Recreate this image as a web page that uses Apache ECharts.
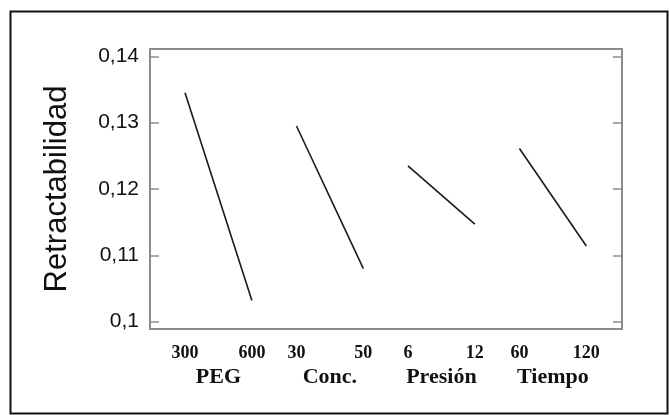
<!DOCTYPE html>
<html>
<head>
<meta charset="utf-8">
<script src="https://cdn.jsdelivr.net/npm/echarts@6/dist/echarts.min.js"></script>
<style>
  html, body { margin: 0; padding: 0; background: #fff; }
  #chart { width: 670px; height: 415px; }
</style>
</head>
<body>
<div id="chart"></div>
<script>
// factors and their two levels
const factors = ['PEG', 'Conc.', 'Presión', 'Tiempo'];
const lowLevels = ['300', '30', '6', '60'];
const highLevels = ['600', '50', '12', '120'];
// mean retractability at the low and high level of each factor
const lowMeans = [0.1345, 0.1295, 0.1235, 0.1261];
const highMeans = [0.1032, 0.1080, 0.1147, 0.1114];
const yTicks = [0.1, 0.11, 0.12, 0.13, 0.14];

// each factor gets a slot on the x axis, the segment spans 0.6 of it
const span = 0.6;
const levelPos = [];
const levelText = {};
const namePos = [];
const nameText = {};
factors.forEach((f, i) => {
    levelPos.push(i, i + span);
    levelText[i] = lowLevels[i];
    levelText[i + span] = highLevels[i];
    namePos.push(i + span / 2);
    nameText[i + span / 2] = f;
});

const series = factors.map((f, i) => ({
    name: f,
    type: 'line',
    data: [[i, lowMeans[i]], [i + span, highMeans[i]]],
    symbol: 'none',
    lineStyle: { color: '#1a1a1a', width: 1.6 },
    silent: true
}));

const chart = echarts.init(document.getElementById('chart'));
const gray = '#8c8c8c';

chart.setOption({
    animation: false,
    grid: {
        left: 150, top: 49, right: 48, bottom: 86,
        show: true, borderColor: gray, borderWidth: 2
    },
    xAxis: [
        {
            type: 'value', min: -0.314, max: 3.92,
            axisLine: { show: false, onZero: false }, axisTick: { show: false }, splitLine: { show: false },
            axisLabel: {
                customValues: levelPos,
                formatter: v => levelText[Math.round(v * 10) / 10] || '',
                margin: 15,
                fontFamily: 'Liberation Serif', fontWeight: 'bold', fontSize: 18, color: '#111'
            }
        },
        {
            type: 'value', min: -0.314, max: 3.92, position: 'bottom',
            axisLine: { show: false, onZero: false }, axisTick: { show: false }, splitLine: { show: false },
            axisLabel: {
                customValues: namePos,
                formatter: v => nameText[Math.round(v * 10) / 10] || '',
                margin: 37,
                fontFamily: 'Liberation Serif', fontWeight: 'bold', fontSize: 22, color: '#111'
            }
        }
    ],
    yAxis: [
        {
            type: 'value', min: 0.0989, max: 0.1411, position: 'left',
            name: 'Retractabilidad', nameLocation: 'middle', nameGap: 77,
            nameTextStyle: { fontFamily: 'Liberation Sans', fontSize: 31, color: '#111' },
            axisLine: { show: false, onZero: false }, splitLine: { show: false },
            axisTick: { inside: true, length: 9, customValues: yTicks, lineStyle: { color: gray, width: 1.5 } },
            axisLabel: {
                customValues: yTicks,
                formatter: v => String(v).replace('.', ','),
                margin: 11,
                fontFamily: 'Liberation Sans', fontSize: 21, color: '#111'
            }
        },
        {
            type: 'value', min: 0.0989, max: 0.1411, position: 'right',
            axisLine: { show: false, onZero: false }, splitLine: { show: false }, axisLabel: { show: false },
            axisTick: { show: true, inside: true, length: 9, customValues: yTicks, lineStyle: { color: gray, width: 1.5 } }
        }
    ],
    graphic: [{
        type: 'rect', left: 8, top: 9,
        shape: { width: 657, height: 402 },
        style: { fill: 'none', stroke: '#111', lineWidth: 2 },
        silent: true
    }],
    series: series
});
</script>
</body>
</html>
